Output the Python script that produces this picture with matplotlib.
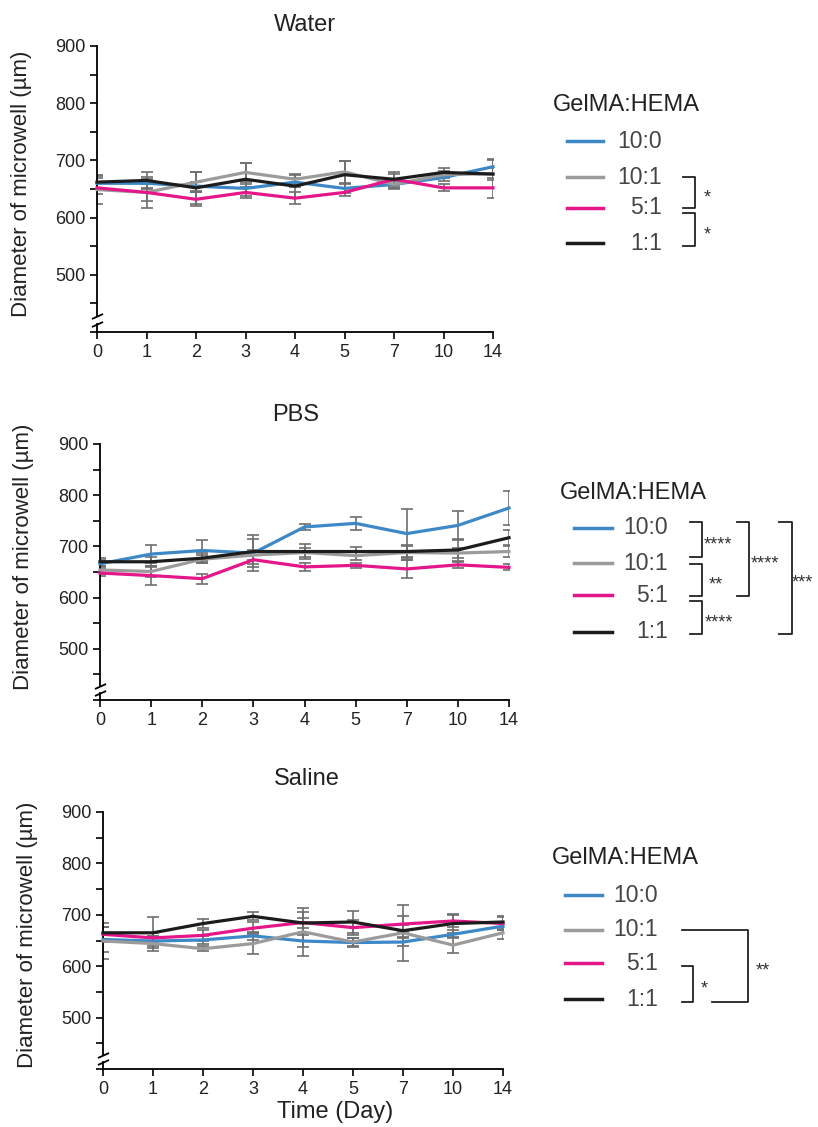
import matplotlib
matplotlib.use("Agg")
import matplotlib.pyplot as plt
import matplotlib.transforms as mtransforms

plt.rcParams["font.family"] = ["Liberation Sans", "DejaVu Sans"]

days = ["0", "1", "2", "3", "4", "5", "7", "10", "14"]
groups = ["10:0", "10:1", "5:1", "1:1"]
colors = ["#3d88c6", "#9b9b9b", "#e5168a", "#1c1c1c"]
panel_titles = ["Water", "PBS", "Saline"]

# mean diameters (um), one list per GelMA:HEMA ratio
water_mean = [
    [660, 660, 655, 651, 662, 651, 658, 670, 689],
    [649, 644, 662, 679, 667, 680, 658, 675, 677],
    [652, 644, 632, 644, 634, 644, 667, 652, 652],
    [662, 665, 652, 667, 655, 675, 667, 679, 676],
]
water_err = [
    [10, 8, 8, 8, 8, 8, 6, 6, 12],
    [25, 15, 18, 17, 10, 19, 8, 6, 25],
    [10, 27, 12, 10, 10, 7, 10, 6, 18],
    [11, 15, 28, 29, 20, 24, 13, 8, 10],
]
pbs_mean = [
    [666, 685, 692, 687, 738, 745, 725, 741, 775],
    [654, 651, 675, 683, 688, 682, 688, 687, 690],
    [648, 643, 637, 674, 660, 663, 656, 664, 659],
    [670, 670, 677, 690, 690, 690, 690, 693, 717],
]
pbs_err = [
    [8, 18, 20, 35, 5, 13, 48, 28, 33],
    [8, 10, 8, 10, 8, 8, 15, 10, 10],
    [6, 19, 10, 15, 8, 5, 18, 6, 6],
    [8, 10, 10, 25, 15, 8, 10, 22, 15],
]
saline_mean = [
    [652, 649, 651, 659, 649, 646, 647, 662, 678],
    [649, 644, 634, 644, 667, 647, 665, 641, 665],
    [662, 655, 660, 674, 685, 675, 682, 688, 683],
    [665, 665, 683, 697, 684, 686, 669, 683, 686],
]
saline_err = [
    [25, 10, 8, 8, 12, 8, 8, 8, 8],
    [35, 15, 5, 20, 47, 8, 55, 15, 12],
    [15, 10, 10, 12, 20, 15, 15, 12, 12],
    [12, 30, 8, 8, 10, 22, 12, 18, 12],
]

# significance labels for each bracket
water_sig = ["*", "*"]
pbs_sig = ["****", "**", "****", "****", "***"]
saline_sig = ["*", "**"]

W, H = 818, 1127
fig = plt.figure(figsize=(W / 100, H / 100), dpi=100)


def px_rect(left, top, right, bottom):
    return [left / W, 1 - bottom / H, (right - left) / W, (bottom - top) / H]


# layout in pixels
axes_px = [(97, 46, 493, 332), (100, 444, 509, 700), (103, 812, 503, 1069)]
title_px = [(305, 25), (296, 415), (307, 779)]
ylabel_px = [(22, 184), (24, 557), (28, 935)]
# bracket: (y top, y bottom, x top start, x bottom start, x vertical, x stars)
legend_px = [
    dict(tx=553, ty=105, rows=[141, 177, 208, 243], lx0=567, lx1=603, rx=662,
         br=[(177, 208, 683, 683, 695, 704), (213, 246, 683, 683, 695, 704)]),
    dict(tx=560, ty=493, rows=[528, 563, 595, 632], lx0=574, lx1=612, rx=668,
         br=[(522, 557, 690, 690, 702, 704), (564, 596, 690, 690, 702, 709),
             (601, 634, 690, 690, 702, 705), (522, 596, 737, 737, 749, 751),
             (522, 634, 779, 779, 792, 792)]),
    dict(tx=552, ty=858, rows=[895, 930, 963, 999], lx0=565, lx1=602, rx=658,
         br=[(966, 1002, 682, 682, 693, 701), (930, 1002, 682, 712, 748, 756)]),
]

data = [(water_mean, water_err, water_sig), (pbs_mean, pbs_err, pbs_sig),
        (saline_mean, saline_err, saline_sig)]

x = list(range(len(days)))
for p, (means, errs, sig) in enumerate(data):
    ax = fig.add_axes(px_rect(*axes_px[p]))
    for g in range(len(groups)):
        ax.errorbar(x, means[g], yerr=errs[g], fmt="none", ecolor="#6e6e6e",
                    elinewidth=1.2, capsize=4, capthick=1.2, zorder=2)
    for g in range(len(groups)):
        ax.plot(x, means[g], color=colors[g], lw=2.3, zorder=3, clip_on=False)

    ax.set_xlim(0, len(days) - 1)
    ax.set_ylim(400, 900)
    ax.set_xticks(x)
    ax.set_xticklabels(days)
    yt = list(range(400, 901, 50))
    ax.set_yticks(yt)
    ax.set_yticklabels([str(v) if v >= 500 and v % 100 == 0 else "" for v in yt])
    ax.tick_params(labelsize=13, length=5, width=1.2, colors="black",
                   labelcolor="#222222")
    for s in ["top", "right", "left"]:
        ax.spines[s].set_visible(False)
    ax.spines["bottom"].set_linewidth(1.3)

    # broken y axis
    tr = mtransforms.blended_transform_factory(ax.transAxes, ax.transData)
    ax.plot([0, 0], [900, 428], color="black", lw=1.3, transform=tr, clip_on=False)
    ax.plot([0, 0], [400, 414], color="black", lw=1.3, transform=tr, clip_on=False)
    for yb in (428, 414):
        ax.plot([0], [yb], marker=[(-1, -0.45), (1, 0.45)], ms=8, mew=1.3,
                color="black", transform=tr, clip_on=False)

    tx, ty = title_px[p]
    fig.text(tx / W, 1 - ty / H, panel_titles[p], fontsize=17, ha="center",
             va="center", color="#222222")
    lx, ly = ylabel_px[p]
    fig.text(lx / W, 1 - ly / H, "Diameter of microwell (µm)", fontsize=16,
             rotation=90, ha="center", va="center", color="#222222")

    # legend + significance brackets
    lg = legend_px[p]
    fig.text(lg["tx"] / W, 1 - lg["ty"] / H, "GelMA:HEMA", fontsize=17,
             ha="left", va="center", color="#222222")
    for g, ry in enumerate(lg["rows"]):
        fig.add_artist(plt.Line2D([lg["lx0"] / W, lg["lx1"] / W],
                                  [1 - ry / H, 1 - ry / H], color=colors[g], lw=2.5))
        fig.text(lg["rx"] / W, 1 - ry / H, groups[g], fontsize=16.5, ha="right",
                 va="center", color="#444444")
    for stars, (ya, yb, xt, xb, xv, xs) in zip(sig, lg["br"]):
        fig.add_artist(plt.Line2D([xt / W, xv / W, xv / W, xb / W],
                                  [1 - ya / H, 1 - ya / H, 1 - yb / H, 1 - yb / H],
                                  color="#222222", lw=1.3))
        fig.text(xs / W, 1 - ((ya + yb) / 2 + 5) / H, stars, fontsize=13,
                 ha="left", va="center", color="#333333")

fig.text(335 / W, 1 - 1112 / H, "Time (Day)", fontsize=17, ha="center",
         va="center", color="#222222")

fig.savefig("out.png", dpi=100)
